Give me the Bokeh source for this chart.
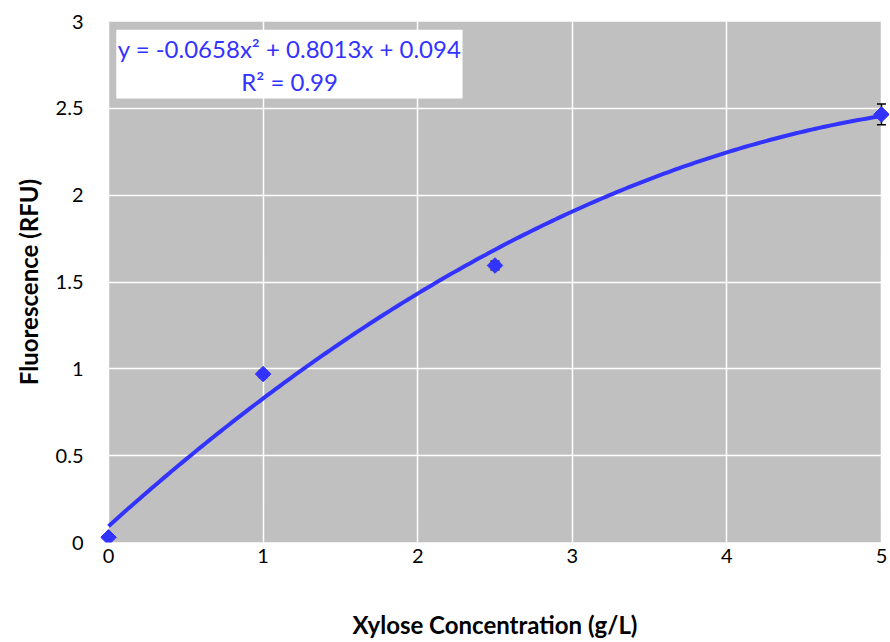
from bokeh.plotting import figure
from bokeh.models import Range1d, Label, BoxAnnotation, Whisker, ColumnDataSource, FixedTicker
from bokeh.embed import file_html
from bokeh.resources import INLINE
import numpy as np

conc = [0, 1, 2.5, 5]
fluor = [0.03, 0.97, 1.595, 2.465]
err = [0.01, 0.02, 0.025, 0.06]
coef = [-0.0658, 0.8013, 0.094]
x_ticks = [0, 1, 2, 3, 4, 5]
y_ticks = [0, 0.5, 1, 1.5, 2, 2.5, 3]

BLUE = "#3333FF"
FONT = "Lato"

p = figure(width=889, height=641, output_backend="svg", toolbar_location=None,
           x_range=Range1d(-0.052, 5.052), y_range=Range1d(0, 3),
           min_border_left=100, min_border_right=0, min_border_top=21, min_border_bottom=99)
p.frame_width = 789
p.frame_height = 521
p.outline_line_color = None
p.background_fill_color = "white"

p.quad(left=[0], right=[5], bottom=[0], top=[3], fill_color="#C0C0C0", line_color=None, level="image")

p.xgrid.ticker = FixedTicker(ticks=x_ticks)
p.ygrid.ticker = FixedTicker(ticks=y_ticks)
p.grid.grid_line_color = "white"
p.grid.grid_line_width = 1.5

for ax in (p.xaxis, p.yaxis):
    ax.axis_line_color = None
    ax.major_tick_line_color = None
    ax.minor_tick_line_color = None
    ax.major_label_text_font = FONT
    ax.major_label_text_font_size = "20px"
    ax.major_label_text_color = "black"
    ax.axis_label_text_font = FONT
    ax.axis_label_text_font_size = "24px"
    ax.axis_label_text_font_style = "bold"
    ax.axis_label_text_color = "black"
p.xaxis.ticker = FixedTicker(ticks=x_ticks)
p.yaxis.ticker = FixedTicker(ticks=y_ticks)
p.xaxis.major_label_standoff = 0
p.yaxis.major_label_standoff = 11
p.xaxis.axis_label = "Xylose Concentration (g/L)"
p.yaxis.axis_label = "Fluorescence (RFU)"
p.xaxis.axis_label_standoff = 44
p.yaxis.axis_label_standoff = 10

src = ColumnDataSource(dict(x=conc, y=fluor,
                            lo=[f - e for f, e in zip(fluor, err)],
                            hi=[f + e for f, e in zip(fluor, err)]))
wh = Whisker(source=src, base="x", lower="lo", upper="hi", line_color="black",
             line_width=1.5, level="underlay")
wh.upper_head.size = 9
wh.lower_head.size = 9
wh.upper_head.line_width = 1.5
wh.lower_head.line_width = 1.5
p.add_layout(wh)

xs = np.linspace(0, 5, 200)
ys = coef[0] * xs**2 + coef[1] * xs + coef[2]
p.line(xs, ys, line_color=BLUE, line_width=4)

p.scatter("x", "y", source=src, marker="square", angle=np.pi / 4, size=11,
          fill_color=BLUE, line_color=BLUE)

p.add_layout(BoxAnnotation(left=0.05, right=2.29, bottom=2.556, top=2.953,
                           fill_color="white", fill_alpha=1, line_color=None, level="annotation"))
p.add_layout(Label(x=1.171, y=2.844, text="y = -0.0658x² + 0.8013x + 0.094",
                   text_align="center", text_baseline="middle", text_color=BLUE,
                   text_font=FONT, text_font_size="24px"))
p.add_layout(Label(x=1.171, y=2.654, text="R² = 0.99",
                   text_align="center", text_baseline="middle", text_color=BLUE,
                   text_font=FONT, text_font_size="24px"))

open("out.html", "w").write(file_html(p, INLINE))
